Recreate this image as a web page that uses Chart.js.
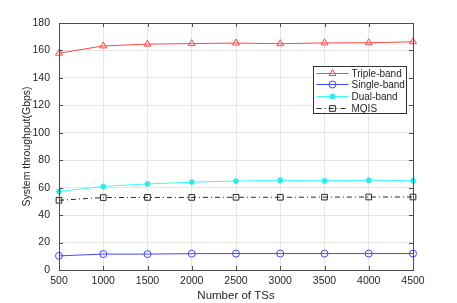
<!DOCTYPE html>
<html>
<head>
<meta charset="utf-8">
<script src="https://cdn.jsdelivr.net/npm/chart.js@4/dist/chart.umd.min.js"></script>
<style>
  html, body { margin: 0; padding: 0; background: #fff; }
  .wrap { width: 457px; height: 303px; }
</style>
</head>
<body>
<div class="wrap"><canvas id="myChart" width="457" height="303"></canvas></div>
<script>
const numberOfTSs = ['500', '1000', '1500', '2000', '2500', '3000', '3500', '4000', '4500']
const tripleBand = [158, 163.3, 164.6, 165, 165.4, 164.9, 165.5, 165.6, 166.3]
const singleBand = [10.3, 11.6, 11.6, 11.9, 12, 12, 12, 12, 12]
const dualBand = [57.2, 60.9, 62.7, 64, 64.8, 65.4, 65, 65.4, 65.1]
const mqis = [50.8, 52.8, 52.9, 52.9, 53, 53, 53.1, 53.2, 53.2]
const yTicks = [0, 20, 40, 60, 80, 100, 120, 140, 160, 180]

const FONT = 'Liberation Sans, Arial, Helvetica, sans-serif'
const AXIS = '#4d4d4d'
const TEXT = '#262626'

// MATLAB-style box with inward tick marks on all four sides
const boxTicks = {
  id: 'boxTicks',
  afterDatasetsDraw (chart) {
    const { ctx, chartArea: a, scales } = chart
    ctx.save()
    ctx.strokeStyle = AXIS
    ctx.lineWidth = 1
    ctx.beginPath()
    scales.x.ticks.forEach((t, i) => {
      const px = Math.round(scales.x.getPixelForTick(i)) + 0.5
      ctx.moveTo(px, a.bottom); ctx.lineTo(px, a.bottom - 4)
      ctx.moveTo(px, a.top); ctx.lineTo(px, a.top + 4)
    })
    scales.y.ticks.forEach((t, i) => {
      const py = Math.round(scales.y.getPixelForTick(i)) + 0.5
      ctx.moveTo(a.left, py); ctx.lineTo(a.left + 4, py)
      ctx.moveTo(a.right, py); ctx.lineTo(a.right - 4, py)
    })
    ctx.stroke()
    ctx.strokeRect(Math.round(a.left) + 0.5, Math.round(a.top) + 0.5,
      Math.round(a.right - a.left), Math.round(a.bottom - a.top))
    ctx.restore()
  }
}

// legend box drawn inside the plot area, near the upper right
const insideLegend = {
  id: 'insideLegend',
  afterDraw (chart) {
    const { ctx, chartArea: a } = chart
    const w = 93
    const h = 47
    const x0 = Math.round(a.right - 7 - w) + 0.5
    const y0 = Math.round(a.top + 43) + 0.5
    ctx.save()
    ctx.fillStyle = '#fff'
    ctx.fillRect(x0, y0, w, h)
    ctx.strokeStyle = '#333'
    ctx.lineWidth = 1
    ctx.strokeRect(x0, y0, w, h)
    ctx.font = '10px ' + FONT
    ctx.textBaseline = 'middle'
    chart.data.datasets.forEach((ds, i) => {
      const cy = Math.round(y0 + 6 + i * 11.8)
      ctx.strokeStyle = ds.borderColor
      ctx.lineWidth = 1
      ctx.setLineDash(ds.borderDash || [])
      ctx.beginPath()
      ctx.moveTo(x0 + 3, cy + 0.5)
      ctx.lineTo(x0 + 35, cy + 0.5)
      ctx.stroke()
      ctx.setLineDash([])
      if (Chart.helpers && Chart.helpers.drawPoint) {
        ctx.strokeStyle = ds.pointBorderColor
        ctx.fillStyle = ds.pointBackgroundColor
        ctx.lineWidth = ds.pointBorderWidth
        Chart.helpers.drawPoint(ctx, {
          pointStyle: ds.pointStyle,
          radius: ds.pointRadius,
          borderWidth: ds.pointBorderWidth,
          rotation: 0
        }, x0 + 19, cy + 0.5)
      }
      ctx.fillStyle = TEXT
      ctx.fillText(ds.label, x0 + 38, cy + 1)
    })
    ctx.restore()
  }
}

new Chart(document.getElementById('myChart'), {
  type: 'line',
  data: {
    labels: numberOfTSs,
    datasets: [
      {
        label: 'Triple-band',
        data: tripleBand,
        borderColor: 'rgb(255, 70, 70)',
        pointBorderColor: 'rgb(255, 70, 70)',
        pointBackgroundColor: 'rgba(255,255,255,0)',
        pointStyle: 'triangle',
        pointRadius: 4,
        borderWidth: 1,
        pointBorderWidth: 1
      },
      {
        label: 'Single-band',
        data: singleBand,
        borderColor: 'rgb(70, 70, 255)',
        pointBorderColor: 'rgb(70, 70, 255)',
        pointBackgroundColor: 'rgba(255,255,255,0)',
        pointStyle: 'circle',
        pointRadius: 3.5,
        borderWidth: 1,
        pointBorderWidth: 1
      },
      {
        label: 'Dual-band',
        data: dualBand,
        borderColor: 'rgb(60, 250, 250)',
        pointBorderColor: 'rgb(40, 235, 235)',
        pointBackgroundColor: 'rgb(40, 235, 235)',
        pointStyle: 'star',
        pointRadius: 3,
        borderWidth: 1,
        pointBorderWidth: 1.5
      },
      {
        label: 'MQIS',
        data: mqis,
        borderColor: 'rgb(40, 40, 40)',
        pointBorderColor: 'rgb(40, 40, 40)',
        pointBackgroundColor: 'rgba(255,255,255,0)',
        pointStyle: 'rect',
        pointRadius: 4,
        borderWidth: 1,
        pointBorderWidth: 1,
        borderDash: [5, 3, 1, 3]
      }
    ]
  },
  options: {
    responsive: false,
    animation: false,
    layout: { padding: { top: 23, right: 44, left: 20, bottom: 0 } },
    plugins: {
      legend: { display: false },
      tooltip: { enabled: false }
    },
    scales: {
      x: {
        type: 'category',
        offset: false,
        grid: { color: '#e6e6e6', tickLength: 0, offset: false, drawTicks: false },
        border: { display: false },
        ticks: { color: TEXT, font: { family: FONT, size: 10.5 }, padding: 5, maxRotation: 0, autoSkip: false },
        title: { display: true, text: 'Number of TSs', color: TEXT, font: { family: FONT, size: 11.5 }, padding: { top: 1, bottom: 0 } },
        afterFit (scale) { scale.height = 33 }
      },
      y: {
        min: 0,
        max: 180,
        afterBuildTicks (scale) { scale.ticks = yTicks.map(v => ({ value: v })) },
        grid: { color: '#e6e6e6', tickLength: 0, drawTicks: false },
        border: { display: false },
        ticks: { color: TEXT, font: { family: FONT, size: 10.5 }, padding: 9 },
        title: { display: true, text: 'System throughput(Gbps)', color: TEXT, font: { family: FONT, size: 10.5 }, padding: { top: 1, bottom: 3 } },
        afterFit (scale) { scale.width = 39 }
      }
    }
  },
  plugins: [boxTicks, insideLegend]
})
</script>
</body>
</html>
